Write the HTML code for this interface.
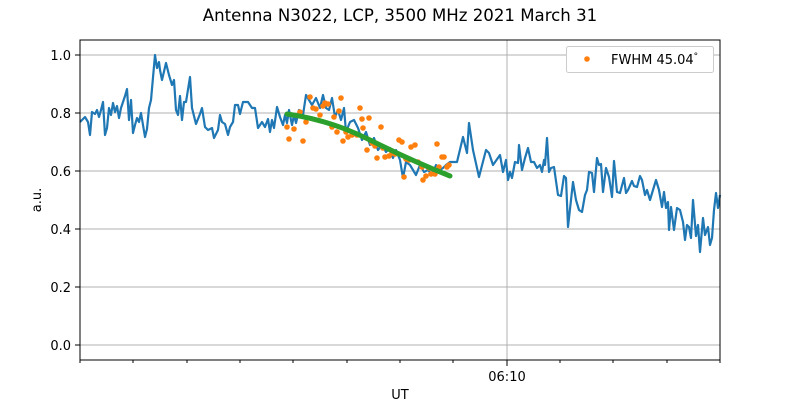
<!DOCTYPE html>
<html><head><meta charset="utf-8"><style>
body{margin:0;background:#fff;}
svg{display:block;font-family:"DejaVu Sans","Liberation Sans",sans-serif;}
</style></head><body>
<svg width="800" height="400" viewBox="0 0 800 400" xmlns="http://www.w3.org/2000/svg">
<rect width="800" height="400" fill="#fff"/>
<text x="400" y="21" font-size="16.6" text-anchor="middle">Antenna N3022, LCP, 3500 MHz 2021 March 31</text>
<g stroke="#b0b0b0" stroke-width="1">
<line x1="80" y1="345" x2="720" y2="345"/><line x1="80" y1="287" x2="720" y2="287"/>
<line x1="80" y1="229" x2="720" y2="229"/><line x1="80" y1="171" x2="720" y2="171"/>
<line x1="80" y1="113" x2="720" y2="113"/><line x1="80" y1="55" x2="720" y2="55"/>
<line x1="507" y1="40" x2="507" y2="360"/>
</g>
<polyline fill="none" stroke="#1f77b4" stroke-width="2.2" stroke-linejoin="round" points="80,122 85,117 88,122 90,135 92,112 95,114 97,110 99,117 101,110 103,102 105,135 107,128 109,108 111,115 113,103 115,112 117,106 119,118 121,108 125,96 127,89 129,120 131,100 133,133 135,125 137,118 139,122 141,113 143,125 145,137 147,129 149,108 151,100 155,55 157,68 159,62 160,70 162,80 166,63 169,75 172,85 174,80 176,110 178,115 180,96 182,120 184,102 186,102 190,77 192,108 196,124 200,114 202,108 205,127 208,130 212,128 214,138 218,130 220,115 222,122 225,124 228,135 230,127 233,122 235,105 238,105 240,114 243,102 248,102 252,108 255,108 258,128 262,122 265,127 268,119 270,132 272,120 274,128 277,107 280,117 283,125 285,115 287,123 289,110 292,125 294,115 296,123 299,110 303,115 306,95 309,100 312,105 316,98 320,108 323,95 326,108 329,110 332,98 335,117 338,110 341,120 344,108 346,132 350,122 354,120 358,128 362,140 366,132 370,145 374,138 378,150 382,145 386,152 390,148 393,158 396,150 400,160 403,178 406,162 410,165 413,170 416,175 420,165 424,172 428,170 432,175 436,165 440,170 443,168 446,165 450,162 457,162 463,137 467,153 469,123 473,150 479,177 486,150 489,153 493,165 500,155 503,172 506,160 508,180 510,172 512,178 515,162 518,163 519,145 522,170 525,158 528,148 531,162 534,162 537,168 540,165 542,172 544,160 545,165 547,138 549,172 551,168 554,167 558,195 561,196 564,176 566,178 568,227 573,182 576,200 579,210 582,212 585,195 587,190 589,172 592,173 594,192 597,158 599,165 601,164 603,192 606,168 609,177 612,197 614,161 617,192 620,193 624,178 626,193 628,190 632,181 634,186 637,187 640,176 642,180 645,195 647,190 650,200 653,190 656,180 659,190 662,207 664,192 666,208 668,202 669,230 671,207 674,230 677,208 680,210 683,222 685,240 687,225 689,227 691,238 693,200 696,236 698,225 700,252 703,218 705,235 708,227 710,245 712,238 714,210 716,193 718,208 720,195"/>
<g fill="#ff7f0e">
<circle cx="287" cy="127" r="2.8"/><circle cx="289" cy="139" r="2.8"/><circle cx="294" cy="129" r="2.8"/><circle cx="300" cy="112" r="2.8"/><circle cx="303" cy="141" r="2.8"/><circle cx="306" cy="122" r="2.8"/><circle cx="310" cy="97" r="2.8"/><circle cx="313" cy="108" r="2.8"/><circle cx="316" cy="109" r="2.8"/><circle cx="320" cy="115" r="2.8"/><circle cx="323" cy="106" r="2.8"/><circle cx="325" cy="103" r="2.8"/><circle cx="328" cy="104" r="2.8"/><circle cx="332" cy="127" r="2.8"/><circle cx="334" cy="117" r="2.8"/><circle cx="337" cy="132" r="2.8"/><circle cx="339" cy="111" r="2.8"/><circle cx="341" cy="98" r="2.8"/><circle cx="343" cy="141" r="2.8"/><circle cx="346" cy="132" r="2.8"/><circle cx="348" cy="137" r="2.8"/><circle cx="352" cy="135" r="2.8"/><circle cx="357" cy="135" r="2.8"/><circle cx="360" cy="108" r="2.8"/><circle cx="362" cy="119" r="2.8"/><circle cx="363" cy="128" r="2.8"/><circle cx="367" cy="150" r="2.8"/><circle cx="369" cy="118" r="2.8"/><circle cx="372" cy="143" r="2.8"/><circle cx="375" cy="146" r="2.8"/><circle cx="377" cy="158" r="2.8"/><circle cx="381" cy="127" r="2.8"/><circle cx="383" cy="148" r="2.8"/><circle cx="385" cy="157" r="2.8"/><circle cx="389" cy="156" r="2.8"/><circle cx="392" cy="153" r="2.8"/><circle cx="395" cy="154" r="2.8"/><circle cx="399" cy="140" r="2.8"/><circle cx="402" cy="142" r="2.8"/><circle cx="404" cy="177" r="2.8"/><circle cx="406" cy="159" r="2.8"/><circle cx="409" cy="160" r="2.8"/><circle cx="411" cy="147" r="2.8"/><circle cx="415" cy="145" r="2.8"/><circle cx="418" cy="162" r="2.8"/><circle cx="422" cy="167" r="2.8"/><circle cx="423" cy="180" r="2.8"/><circle cx="426" cy="176" r="2.8"/><circle cx="429" cy="168" r="2.8"/><circle cx="431" cy="174" r="2.8"/><circle cx="435" cy="174" r="2.8"/><circle cx="437" cy="144" r="2.8"/><circle cx="439" cy="167" r="2.8"/><circle cx="442" cy="157" r="2.8"/><circle cx="444" cy="157" r="2.8"/><circle cx="447" cy="167" r="2.8"/><circle cx="449" cy="165" r="2.8"/>
</g>
<path d="M287,114 Q330,120 370,140 T450,176" fill="none" stroke="#2ca02c" stroke-width="5" stroke-linecap="round"/>
<rect x="80" y="40" width="640" height="320" fill="none" stroke="#000" stroke-width="1"/>
<g stroke="#000" stroke-width="1">
<line x1="75" y1="345" x2="80" y2="345"/><line x1="75" y1="287" x2="80" y2="287"/><line x1="75" y1="229" x2="80" y2="229"/><line x1="75" y1="171" x2="80" y2="171"/><line x1="75" y1="113" x2="80" y2="113"/><line x1="75" y1="55" x2="80" y2="55"/>
<line x1="507" y1="360" x2="507" y2="366"/>
<line x1="80" y1="360" x2="80" y2="363"/><line x1="133" y1="360" x2="133" y2="363"/><line x1="187" y1="360" x2="187" y2="363"/><line x1="240" y1="360" x2="240" y2="363"/><line x1="293" y1="360" x2="293" y2="363"/><line x1="347" y1="360" x2="347" y2="363"/><line x1="400" y1="360" x2="400" y2="363"/><line x1="453" y1="360" x2="453" y2="363"/><line x1="560" y1="360" x2="560" y2="363"/><line x1="613" y1="360" x2="613" y2="363"/><line x1="667" y1="360" x2="667" y2="363"/><line x1="720" y1="360" x2="720" y2="363"/>
</g>
<g font-size="13" text-anchor="end">
<text x="71" y="350">0.0</text><text x="71" y="292">0.2</text><text x="71" y="234">0.4</text><text x="71" y="176">0.6</text><text x="71" y="118">0.8</text><text x="71" y="60">1.0</text>
</g>
<text x="507" y="381" font-size="13" text-anchor="middle">06:10</text>
<text x="400" y="399" font-size="13" text-anchor="middle">UT</text>
<text x="41" y="200" font-size="13" text-anchor="middle" transform="rotate(-90 41 200)">a.u.</text>
<rect x="566.5" y="46.5" width="147" height="26" rx="2" fill="#fff" stroke="#ccc"/>
<circle cx="587" cy="59" r="2.8" fill="#ff7f0e"/>
<text x="611" y="64" font-size="13">FWHM 45.04<tspan font-size="9" dy="-5">°</tspan></text>
</svg>
</body></html>
